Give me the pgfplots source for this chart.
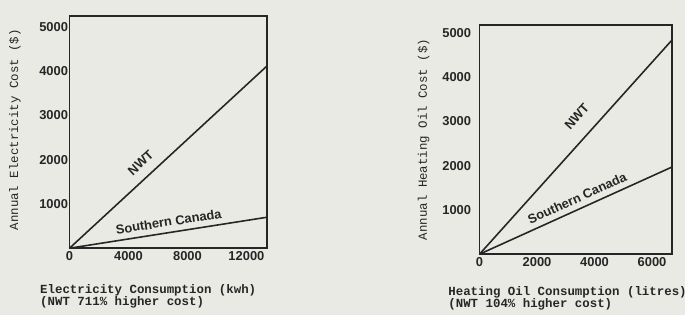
\documentclass[border=0pt]{standalone}
\usepackage{pgfplots}
\pgfplotsset{compat=1.18}
\usepackage{fontspec}
\setmainfont{Liberation Sans}
\setmonofont{Liberation Mono}
\definecolor{paper}{RGB}{234,234,229}
\definecolor{ink}{RGB}{38,38,38}
\tikzset{linelabel/.style={font=\fontsize{13}{12}\selectfont\bfseries, text=ink, sloped}}
\begin{document}
\begin{tikzpicture}
\fill[paper] (0pt,0pt) rectangle (690pt,317pt);
\pgfplotsset{
  common/.style={
    scale only axis,
    anchor=south west,
    axis line style={draw=ink, line width=1.7pt},
    tick style={draw=none},
    scaled ticks=false,
    /pgf/number format/assume math mode=true,
    /pgf/number format/1000 sep={},
    ticklabel style={font=\fontsize{13}{12}\selectfont\bfseries, text=ink},
    clip=false,
    label style={text=ink},
    xlabel style={font=\fontsize{12.5}{12}\selectfont\ttfamily\bfseries, align=left, anchor=north west},
    ylabel style={font=\fontsize{12.5}{12}\selectfont\ttfamily, anchor=center},
  }
}
% Left: electricity
\begin{axis}[common, at={(70pt,67pt)}, width=199pt, height=234pt,
  xmin=0, xmax=13400, ymin=0, ymax=5250,
  xtick={0,4000,8000,12000}, ytick={1000,2000,3000,4000,5000},
  yticklabel style={xshift=2pt},
  xlabel={Electricity Consumption (kwh)\\(NWT 711\% higher cost)},
  xlabel style={at={(axis description cs:-0.166,-0.14)}},
  ylabel={Annual Electricity Cost (\$)},
  ylabel style={at={(axis description cs:-0.276,0.51)}},
]
\addplot[ink, line width=1.6pt, mark=none] coordinates {(0,0) (13400,4120)} node[linelabel, pos=0.41, above=6pt] {NWT};
\addplot[ink, line width=1.6pt, mark=none] coordinates {(0,0) (13400,700)} node[linelabel, pos=0.51, above=2pt] {Southern Canada};
\end{axis}
% Right: heating oil
\begin{axis}[common, at={(483pt,61pt)}, width=194pt, height=231pt,
  xmin=0, xmax=6700, ymin=0, ymax=5180,
  xtick={0,2000,4000,6000}, ytick={1000,2000,3000,4000,5000},
  yticklabel style={xshift=-5pt},
  xlabel={Heating Oil Consumption (litres)\\(NWT 104\% higher cost)},
  xlabel style={at={(axis description cs:-0.18,-0.125)}},
  ylabel={Annual Heating Oil Cost (\$)},
  ylabel style={at={(axis description cs:-0.29,0.50)}},
]
\addplot[ink, line width=1.6pt, mark=none] coordinates {(0,0) (6700,4840)} node[linelabel, pos=0.58, above=11pt] {NWT};
\addplot[ink, line width=1.6pt, mark=none] coordinates {(0,0) (6700,1970)} node[linelabel, pos=0.53, above=2pt] {Southern Canada};
\end{axis}
\useasboundingbox (0pt,0pt) rectangle (690pt,317pt);
\end{tikzpicture}
\end{document}
